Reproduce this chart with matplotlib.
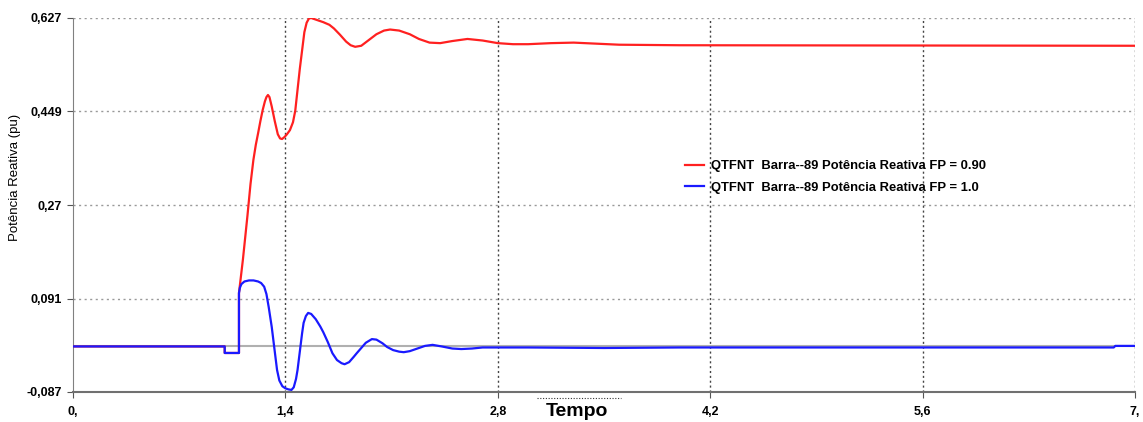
import matplotlib
matplotlib.use("Agg")
import matplotlib.pyplot as plt
from matplotlib.lines import Line2D

plt.rcParams['font.family'] = ['Liberation Sans', 'DejaVu Sans']

# ---- data ----
t_blue = [0.0, 1.0, 1.0, 1.094, 1.094, 1.10, 1.11, 1.13, 1.16, 1.19, 1.22, 1.24, 1.26, 1.275,
          1.29, 1.31, 1.33, 1.345, 1.36, 1.38, 1.40, 1.42, 1.44, 1.455, 1.47, 1.48, 1.495,
          1.51, 1.52, 1.535, 1.55, 1.57, 1.60, 1.63, 1.65, 1.68, 1.71, 1.74, 1.77, 1.79,
          1.82, 1.85, 1.87, 1.90, 1.93, 1.97, 2.00, 2.04, 2.07, 2.11, 2.15, 2.18, 2.22,
          2.27, 2.32, 2.37, 2.43, 2.50, 2.56, 2.63, 2.70, 2.80, 3.0, 3.5, 4.0, 5.0, 6.0,
          6.86, 6.87, 7.0]
q_blue = [0.0, 0.0, -0.0125, -0.0125, 0.102, 0.112, 0.119, 0.124, 0.126, 0.126, 0.124, 0.121, 0.114, 0.100,
          0.075, 0.037, -0.010, -0.045, -0.065, -0.076, -0.080, -0.082, -0.083, -0.078, -0.062, -0.045, -0.010,
          0.025, 0.045, 0.058, 0.064, 0.062, 0.052, 0.038, 0.027, 0.008, -0.013, -0.026, -0.032, -0.034,
          -0.030, -0.020, -0.013, -0.003, 0.007, 0.014, 0.013, 0.006, -0.001, -0.007, -0.010, -0.011, -0.009,
          -0.004, 0.001, 0.003, 0.000, -0.004, -0.005, -0.004, -0.002, -0.002, -0.002, -0.003, -0.002, -0.002, -0.002,
          -0.002, 0.001, 0.001]

t_red = [0.0, 1.0, 1.0, 1.094, 1.094, 1.12, 1.15, 1.17, 1.189, 1.205, 1.22, 1.235, 1.25, 1.265,
         1.275, 1.285, 1.295, 1.31, 1.33, 1.35, 1.365, 1.378, 1.395, 1.41, 1.43, 1.45, 1.465,
         1.48, 1.495, 1.51, 1.525, 1.54, 1.555, 1.57, 1.60, 1.65, 1.69, 1.72, 1.76, 1.80,
         1.83, 1.86, 1.90, 1.95, 2.0, 2.05, 2.09, 2.15, 2.22, 2.28, 2.35, 2.42, 2.5, 2.6,
         2.7, 2.8, 2.9, 3.0, 3.15, 3.3, 3.45, 3.6, 4.0, 7.0]
q_red = [0.0, 0.0, -0.0125, -0.0125, 0.102, 0.166, 0.250, 0.310, 0.356, 0.385, 0.407, 0.430, 0.451, 0.468,
         0.476, 0.480, 0.476, 0.458, 0.430, 0.405, 0.397, 0.396, 0.400, 0.405, 0.413, 0.428, 0.450,
         0.490, 0.530, 0.565, 0.600, 0.618, 0.626, 0.627, 0.624, 0.619, 0.614, 0.607, 0.595, 0.582,
         0.575, 0.572, 0.574, 0.585, 0.596, 0.603, 0.605, 0.603, 0.596, 0.587, 0.580, 0.579, 0.583, 0.587,
         0.584, 0.579, 0.577, 0.577, 0.579, 0.580, 0.578, 0.576, 0.575, 0.574]

x_ticks = [0.0, 1.4, 2.8, 4.2, 5.6, 7.0]
x_tick_labels = ['0,', '1,4', '2,8', '4,2', '5,6', '7,']
y_ticks = [-0.087, 0.091, 0.27, 0.449, 0.627]
y_tick_labels = ['-0,087', '0,091', '0,27', '0,449', '0,627']

label_red = 'QTFNT  Barra--89 Potência Reativa FP = 0.90'
label_blue = 'QTFNT  Barra--89 Potência Reativa FP = 1.0'

# ---- figure ----
fig = plt.figure(figsize=(11.43, 4.22), dpi=100)
ax = fig.add_axes([73/1143, 1 - 392/422, (1135-73)/1143, (392-18)/422])

ax.set_xlim(0, 7)
ax.set_ylim(-0.087, 0.627)

# grid
for yt in y_ticks[1:]:
    ax.axhline(yt, color='#999999', lw=1.0, ls=(0, (1.5, 2.5)), zorder=1)
for xt in x_ticks[1:]:
    ax.axvline(xt, color='#444444', lw=1.0, ls=(0, (1.5, 2.0)), zorder=1)
ax.axhline(0.0, color='#b0b0b0', lw=1.5, zorder=1)

ax.plot(t_red, q_red, color='#ff2020', lw=1.6, zorder=3, label=label_red)
ax.plot(t_blue, q_blue, color='#1a1aff', lw=1.6, zorder=4, label=label_blue)

for s in ['top', 'right']:
    ax.spines[s].set_visible(False)
ax.spines['left'].set_color('#808080')
ax.spines['bottom'].set_color('#707070')
ax.spines['bottom'].set_linewidth(1.5)

ax.set_xticks(x_ticks)
ax.set_xticklabels(x_tick_labels, fontsize=9, fontweight='bold')
ax.set_yticks(y_ticks)
ax.set_yticklabels(y_tick_labels, fontsize=9, fontweight='bold')
ax.tick_params(axis='both', length=4, color='#555555', pad=4)
ax.tick_params(axis='x', pad=6)

fig.text(15/1143, 1 - 177/422, 'Potência Reativa (pu)', fontsize=9.5,
         rotation=90, ha='center', va='center')

fig.text(577/1143, 1 - 411/422, 'Tempo', fontsize=14, fontweight='bold',
         ha='center', va='center')
fig.add_artist(Line2D([537/1143, 621/1143], [1 - 398/422, 1 - 398/422],
                      color='#333333', lw=0.8, ls=(0, (1, 1.5))))

leg = ax.legend(loc='upper left', bbox_to_anchor=((680-73)/1062, 1 - (155-18)/374),
                frameon=False, fontsize=9.4, handlelength=1.4, handletextpad=0.6,
                labelspacing=0.7, borderaxespad=0)
for txt in leg.get_texts():
    txt.set_fontweight('semibold')

fig.savefig('out.png', dpi=100)
